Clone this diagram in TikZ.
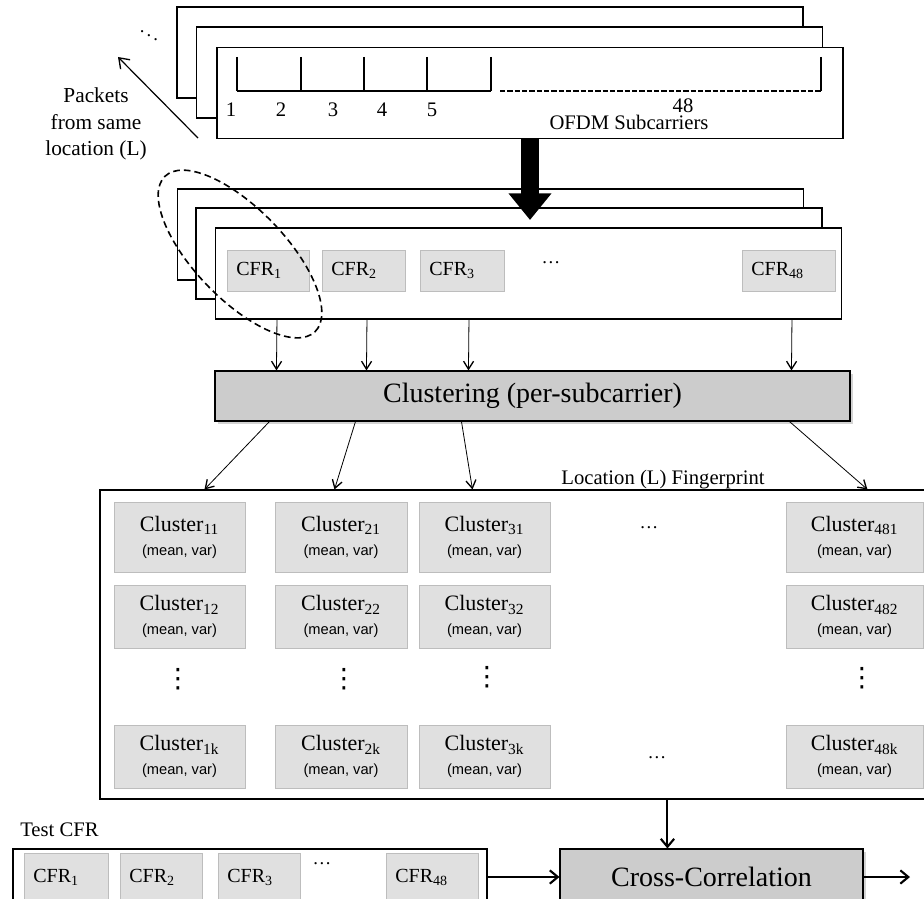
\documentclass[tikz,border=0pt]{standalone}
\usepackage{fontspec}
\setmainfont{Liberation Serif}
\setsansfont{Liberation Sans}
\newfontfamily\symbfont{DejaVu Sans}
\usepackage{tikz}
\usetikzlibrary{positioning}
\usetikzlibrary{arrows.meta}
\usetikzlibrary{calc}
\usetikzlibrary{shadows}
\definecolor{cellgray}{HTML}{E0E0E0}
\definecolor{celledge}{HTML}{BDBDBD}
\definecolor{procgray}{HTML}{CCCCCC}
\newcommand{\meanvar}{{\sffamily\fontsize{11}{12}\selectfont (mean, var)}}

\begin{document}
\begin{tikzpicture}[
x=0.75pt, y=-0.75pt,
framenode/.style={rectangle, draw=black, fill=white, line width=0.8pt, minimum width=469.5pt, minimum height=68.25pt, inner sep=0pt},
cfrnode/.style={rectangle, draw=celledge, fill=cellgray, line width=0.6pt, minimum height=30.75pt, inner xsep=7pt, inner ysep=0pt, align=left, font=\fontsize{15}{17}\selectfont},
clusternode/.style={rectangle, draw=celledge, fill=cellgray, line width=0.6pt, minimum width=98.25pt, minimum height=47.25pt, inner sep=0pt, align=center, font=\fontsize{16.5}{18}\selectfont},
procnode/.style={rectangle, draw=black, fill=procgray, line width=0.8pt, drop shadow={opacity=0.35, shadow xshift=2pt, shadow yshift=-2pt}, inner sep=0pt, font=\fontsize{21}{24}\selectfont},
labelnode/.style={inner sep=0pt, font=\fontsize{15.5}{18}\selectfont},
dotsnode/.style={inner sep=0pt, font=\fontsize{14}{16}\selectfont},
vdotsnode/.style={inner sep=0pt, font=\symbfont\fontsize{20}{22}\selectfont},
thinarrow/.style={-{Straight Barb[length=6pt,width=7.5pt,line width=1pt]}, line width=0.6pt},
thickarrow/.style={-{Straight Barb[length=6pt,width=10pt,line width=1.6pt]}, line width=1.5pt},
]
\clip (0,0) rectangle (924,899);

%Nodes
\node[framenode] (pktc) at (490,52.5) {};
\node[framenode] (pktb) at (509.5,72.5) {};
\node[framenode] (pkta) at (530,93) {};
\node[dotsnode] (stackdots) at (149,32) {$\ddots$};

\node[labelnode, align=center, font=\fontsize{16}{20}\selectfont] (pktlabel) at (96,124) {Packets\\from same\\location (L)};
\coordinate (pktfrom) at (198,138);
\coordinate (pktto) at (118,57);

%Subcarrier axis
\draw[line width=1.2pt] (237,57) -- (237,91);
\draw[line width=1.2pt] (301,57) -- (301,91);
\draw[line width=1.2pt] (364,57) -- (364,91);
\draw[line width=1.2pt] (427,57) -- (427,91);
\draw[line width=1.2pt] (491,57) -- (491,91);
\draw[line width=1.2pt] (821,57) -- (821,91);
\draw[line width=2pt] (237,91) -- (491,91);
\draw[line width=2pt, dash pattern=on 4pt off 1.5pt] (500,91) -- (821,91);

\node[labelnode] (sc1) at (231,110) {1};
\node[labelnode] (sc2) at (281,110) {2};
\node[labelnode] (sc3) at (333,110) {3};
\node[labelnode] (sc4) at (382,110) {4};
\node[labelnode] (sc5) at (432,110) {5};
\node[labelnode] (sc48) at (683,106) {48};
\node[labelnode] (ofdm) at (629,122) {OFDM Subcarriers};

\node[framenode] (cfrc) at (490.5,234.5) {};
\node[framenode] (cfrb) at (509,253.5) {};
\node[framenode] (cfra) at (528.5,273.5) {};

\node[cfrnode, text width=47.5pt] (cfr1) at (268,270.5) {CFR\textsubscript{1}};
\node[cfrnode, text width=48.25pt] (cfr2) at (363.5,270.5) {CFR\textsubscript{2}};
\node[cfrnode, text width=49pt] (cfr3) at (462,270.5) {CFR\textsubscript{3}};
\node[dotsnode] (cfrdots) at (551,263) {\dots};
\node[cfrnode, text width=55.75pt] (cfr48) at (788.5,270.5) {CFR\textsubscript{48}};

\coordinate (bigtip) at (530,220);

\node[procnode, minimum width=476.25pt, minimum height=37.5pt] (clust) at (532.5,396) {Clustering (per-subcarrier)};

\node[framenode, minimum width=630pt, minimum height=231.75pt] (fp) at (520,644.5) {};
\node[labelnode] (fplabel) at (663,480) {Location (L) Fingerprint};

\node[clusternode, minimum height=52.5pt] (cl11) at (179.5,537) {Cluster\textsubscript{11}\\\meanvar};
\node[clusternode, minimum width=99pt, minimum height=52.5pt] (cl21) at (341,537) {Cluster\textsubscript{21}\\\meanvar};
\node[clusternode, minimum height=52.5pt] (cl31) at (484.5,537) {Cluster\textsubscript{31}\\\meanvar};
\node[dotsnode] (rowdots1) at (649,528) {\dots};
\node[clusternode, minimum width=102.75pt, minimum height=52.5pt] (cl481) at (854.5,537) {Cluster\textsubscript{481}\\\meanvar};

\node[clusternode] (cl12) at (179.5,616.5) {Cluster\textsubscript{12}\\\meanvar};
\node[clusternode, minimum width=99pt] (cl22) at (341,616.5) {Cluster\textsubscript{22}\\\meanvar};
\node[clusternode] (cl32) at (484.5,616.5) {Cluster\textsubscript{32}\\\meanvar};
\node[clusternode, minimum width=102.75pt] (cl482) at (854.5,616.5) {Cluster\textsubscript{482}\\\meanvar};

\node[vdotsnode] (coldots1) at (178,679) {⋮};
\node[vdotsnode] (coldots2) at (344,679) {⋮};
\node[vdotsnode] (coldots3) at (487,677) {⋮};
\node[vdotsnode] (coldots48) at (862,678) {⋮};

\node[clusternode] (cl1k) at (179.5,756.5) {Cluster\textsubscript{1k}\\\meanvar};
\node[clusternode, minimum width=99pt] (cl2k) at (341,756.5) {Cluster\textsubscript{2k}\\\meanvar};
\node[clusternode] (cl3k) at (484.5,756.5) {Cluster\textsubscript{3k}\\\meanvar};
\node[dotsnode] (rowdotsk) at (657,758) {\dots};
\node[clusternode, minimum width=102.75pt] (cl48k) at (854.5,756.5) {Cluster\textsubscript{48k}\\\meanvar};

\node[labelnode, anchor=west] (testlabel) at (20,830) {Test CFR};
\node[framenode, minimum width=355.5pt, minimum height=42pt] (testbox) at (250,877) {};
\node[cfrnode, text width=49pt, minimum height=36pt] (tcfr1) at (66,877) {CFR\textsubscript{1}};
\node[cfrnode, text width=47.5pt, minimum height=36pt] (tcfr2) at (161,877) {CFR\textsubscript{2}};
\node[cfrnode, text width=47.5pt, minimum height=36pt] (tcfr3) at (259,877) {CFR\textsubscript{3}};
\node[dotsnode] (tcfrdots) at (322,864) {\dots};
\node[cfrnode, text width=55pt, minimum height=36pt] (tcfr48) at (432,877) {CFR\textsubscript{48}};

\node[procnode, minimum width=227.25pt, minimum height=42pt] (xcorr) at (711.5,877) {Cross-Correlation};
\coordinate (result) at (910,877);

%Lines
\draw[-{Straight Barb[length=7pt,width=10pt,line width=1pt]}, line width=0.9pt] (pktfrom) -- (pktto);
\draw[line width=14pt, -{Triangle[width=31pt,length=20pt]}] (pkta.south) -- (bigtip);
\draw[line width=1.2pt, dash pattern=on 5pt off 3pt, rotate around={-46:(240,254)}] (240,254) ellipse [x radius=81pt, y radius=34pt];

\draw[thinarrow] ($(cfra.south west)+(62,0)$) -- ($(clust.north west)+(62,0)$);
\draw[thinarrow] ($(cfra.south west)+(152,0)$) -- ($(clust.north west)+(152,0)$);
\draw[thinarrow] ($(cfra.south west)+(254,0)$) -- ($(clust.north west)+(254,0)$);
\draw[thinarrow] ($(cfra.south west)+(577,0)$) -- ($(clust.north west)+(577,0)$);

\draw[thinarrow] ($(clust.south west)+(55,0)$) -- ($(fp.north west)+(105,0)$);
\draw[thinarrow] ($(clust.south west)+(141,0)$) -- ($(fp.north west)+(235,0)$);
\draw[thinarrow] ($(clust.south west)+(247,0)$) -- ($(fp.north west)+(373,0)$);
\draw[thinarrow] ($(clust.south west)+(575,0)$) -- ($(fp.north west)+(768,0)$);

\draw[thickarrow] ($(fp.south west)+(568,0)$) -- ($(xcorr.north west)+(108,0)$);
\draw[thickarrow] (testbox.east) -- (xcorr.west);
\draw[thickarrow] (xcorr.east) -- (result);
\end{tikzpicture}
\end{document}
